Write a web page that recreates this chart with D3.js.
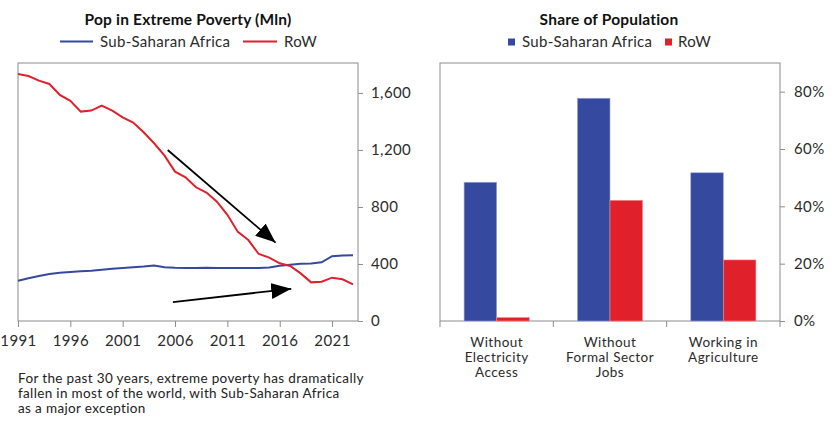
<!DOCTYPE html>
<html>
<head>
<meta charset="utf-8">
<script src="https://cdn.jsdelivr.net/npm/d3@7"></script>
<style>
  body { margin: 0; background: #fff; }
  svg { font-family: Lato, "Open Sans", sans-serif; }
  .tick text { fill: #2b2b2b; letter-spacing: 0.4px; }
</style>
</head>
<body>
<div id="chart"></div>
<script>
// Chart data

// left chart: people in extreme poverty, millions
const years = [1991, 1992, 1993, 1994, 1995, 1996, 1997, 1998, 1999, 2000,
  2001, 2002, 2003, 2004, 2005, 2006, 2007, 2008, 2009, 2010,
  2011, 2012, 2013, 2014, 2015, 2016, 2017, 2018, 2019, 2020,
  2021, 2022, 2023];
const ssa = [283, 300, 316, 330, 338, 344, 349, 353, 359, 366,
  372, 377, 382, 389, 377, 373, 372, 372, 373, 372,
  372, 372, 371, 372, 376, 388, 395, 401, 404, 412,
  455, 459, 462];
const row = [1733, 1719, 1686, 1663, 1586, 1544, 1469, 1476, 1511, 1476,
  1429, 1392, 1324, 1247, 1160, 1048, 1008, 938, 901, 837,
  745, 625, 568, 470, 445, 405, 386, 334, 271, 276,
  304, 293, 257];
const yearTicks = [1991, 1996, 2001, 2006, 2011, 2016, 2021];
const povTicks = [0, 400, 800, 1200, 1600];

// right chart: share of population
const categories = [
  ["Without", "Electricity", "Access"],
  ["Without", "Formal Sector", "Jobs"],
  ["Working in", "Agriculture"]
];
const ssaShare = [0.484, 0.777, 0.517];
const rowShare = [0.012, 0.421, 0.213];
const shareTicks = [0, 0.2, 0.4, 0.6, 0.8];

const seriesNames = ["Sub-Saharan Africa", "RoW"];
const blue = "#354a9e";
const red = "#e0202a";

const svg = d3.select("#chart")
  .append("svg")
  .attr("width", 840)
  .attr("height", 429);

/*
  Left: line chart
*/
const L = {left: 18, right: 358, top: 63, bottom: 321};

const x = d3.scaleLinear()
  .domain([1991, 2023])
  .range([L.left, 353]);

const y = d3.scaleLinear()
  .domain([0, 1810])
  .range([L.bottom, L.top]);

// frame
svg.append("rect")
  .attr("x", L.left).attr("y", L.top)
  .attr("width", L.right - L.left).attr("height", L.bottom - L.top)
  .attr("fill", "none").attr("stroke", "#8c8c8c").attr("stroke-width", 1);

svg.append("g")
  .attr("transform", `translate(${L.right},0)`)
  .call(d3.axisRight(y).tickValues(povTicks).tickFormat(d3.format(",")).tickSize(5).tickPadding(8))
  .call(g => g.select(".domain").remove())
  .call(g => g.selectAll("line").attr("stroke", "#8c8c8c"))
  .attr("font-family", null)
  .attr("font-size", "15px");

svg.append("g")
  .attr("transform", `translate(0,${L.bottom})`)
  .call(d3.axisBottom(x).tickValues(yearTicks).tickFormat(d3.format("d")).tickSize(6).tickPadding(8))
  .call(g => g.select(".domain").remove())
  .call(g => g.selectAll("line").attr("stroke", "#8c8c8c"))
  .attr("font-family", null)
  .attr("font-size", "15px");

const line = d3.line()
  .x((d, i) => x(years[i]))
  .y(d => y(d));

svg.append("path")
  .datum(ssa)
  .attr("fill", "none")
  .attr("stroke", blue)
  .attr("stroke-width", 2)
  .attr("d", line);

svg.append("path")
  .datum(row)
  .attr("fill", "none")
  .attr("stroke", red)
  .attr("stroke-width", 2)
  .attr("d", line);

// arrows
svg.append("defs").append("marker")
  .attr("id", "head")
  .attr("viewBox", "0 -8 20 16")
  .attr("refX", 20).attr("refY", 0)
  .attr("markerWidth", 20).attr("markerHeight", 16)
  .attr("markerUnits", "userSpaceOnUse")
  .attr("orient", "auto")
  .append("path")
  .attr("d", "M0,-8L20,0L0,8Z")
  .attr("fill", "#000");

const arrows = [
  {from: [2005.3, 1200], to: [2015.6, 550]},
  {from: [2005.8, 133], to: [2017.1, 226]}
];
svg.selectAll(".arrow")
  .data(arrows)
  .enter()
  .append("line")
  .attr("class", "arrow")
  .attr("x1", d => x(d.from[0])).attr("y1", d => y(d.from[1]))
  .attr("x2", d => x(d.to[0])).attr("y2", d => y(d.to[1]))
  .attr("stroke", "#000")
  .attr("stroke-width", 1.8)
  .attr("marker-end", "url(#head)");

// title + legend
svg.append("text")
  .attr("x", 188).attr("y", 25)
  .attr("text-anchor", "middle")
  .attr("font-weight", "bold").attr("font-size", "15.5px")
  .attr("letter-spacing", "0.2px")
  .attr("fill", "#111")
  .text("Pop in Extreme Poverty (Mln)");

const lineLegend = [{x: 60, w: 33, tx: 100, color: blue}, {x: 243, w: 34, tx: 284, color: red}];
lineLegend.forEach((d, i) => {
  svg.append("line")
    .attr("x1", d.x).attr("x2", d.x + d.w)
    .attr("y1", 41.5).attr("y2", 41.5)
    .attr("stroke", d.color).attr("stroke-width", 2);
  svg.append("text")
    .attr("x", d.tx).attr("y", 46.5)
    .attr("font-size", "15px").attr("letter-spacing", "0.3px").attr("fill", "#2b2b2b")
    .text(seriesNames[i]);
});

// note below
const note = [
  "For the past 30 years, extreme poverty has dramatically",
  "fallen in most of the world, with Sub-Saharan Africa",
  "as a major exception"
];
svg.append("text")
  .attr("x", 18).attr("y", 383)
  .attr("font-size", "13.5px").attr("letter-spacing", "0.35px").attr("fill", "#222")
  .selectAll("tspan")
  .data(note)
  .enter()
  .append("tspan")
  .attr("x", 18)
  .attr("dy", (d, i) => i ? 15 : 0)
  .text(d => d);

/*
  Right: grouped bar chart
*/
const R = {left: 440, right: 780, top: 63, bottom: 321};

const x0 = d3.scaleBand()
  .domain(d3.range(categories.length))
  .range([R.left, R.right])
  .padding(0);

const x1 = d3.scaleBand()
  .domain(d3.range(2))
  .range([0, x0.bandwidth()])
  .paddingInner(0)
  .paddingOuter(0.74);

const y2 = d3.scaleLinear()
  .domain([0, 0.9])
  .range([R.bottom, R.top]);

svg.append("rect")
  .attr("x", R.left).attr("y", R.top)
  .attr("width", R.right - R.left).attr("height", R.bottom - R.top)
  .attr("fill", "none").attr("stroke", "#8c8c8c").attr("stroke-width", 1);

const barData = categories.map((c, i) => [ssaShare[i], rowShare[i]]);
const groups = svg.selectAll(".grp")
  .data(barData)
  .enter()
  .append("g")
  .attr("class", "grp")
  .attr("transform", (d, i) => `translate(${x0(i)},0)`);

groups.selectAll("rect")
  .data(d => d)
  .enter()
  .append("rect")
  .attr("x", (d, j) => x1(j))
  .attr("y", d => y2(d))
  .attr("width", x1.bandwidth())
  .attr("height", d => R.bottom - y2(d))
  .attr("fill", (d, j) => j ? red : blue)
  .attr("stroke", (d, j) => j ? "#f08a8e" : "#9aa6d6")
  .attr("stroke-width", 0.6);

svg.append("g")
  .attr("transform", `translate(${R.right},0)`)
  .call(d3.axisRight(y2).tickValues(shareTicks).tickFormat(d3.format(".0%")).tickSize(5).tickPadding(9))
  .call(g => g.select(".domain").remove())
  .call(g => g.selectAll("line").attr("stroke", "#8c8c8c"))
  .attr("font-family", null)
  .attr("font-size", "15px");

// category separators on the bottom axis
svg.append("g")
  .selectAll("line")
  .data(d3.range(categories.length + 1))
  .enter()
  .append("line")
  .attr("x1", i => i < categories.length ? x0(i) : R.right)
  .attr("x2", i => i < categories.length ? x0(i) : R.right)
  .attr("y1", R.bottom).attr("y2", R.bottom + 6)
  .attr("stroke", "#8c8c8c");

svg.append("g")
  .selectAll("text")
  .data(categories)
  .enter()
  .append("text")
  .attr("text-anchor", "middle")
  .attr("font-size", "13.5px").attr("letter-spacing", "0.45px").attr("fill", "#2b2b2b")
  .attr("y", 347)
  .each(function(d, i) {
    d3.select(this).selectAll("tspan")
      .data(d)
      .enter()
      .append("tspan")
      .attr("x", x0(i) + x0.bandwidth() / 2)
      .attr("dy", (t, k) => k ? 15 : 0)
      .text(t => t);
  });

svg.append("text")
  .attr("x", 609).attr("y", 25)
  .attr("text-anchor", "middle")
  .attr("font-weight", "bold").attr("font-size", "15.5px")
  .attr("letter-spacing", "0.2px")
  .attr("fill", "#111")
  .text("Share of Population");

const barLegend = [{x: 508, tx: 522, color: blue}, {x: 665, tx: 678, color: red}];
barLegend.forEach((d, i) => {
  svg.append("rect")
    .attr("x", d.x).attr("y", 38.5)
    .attr("width", 7).attr("height", 7)
    .attr("fill", d.color);
  svg.append("text")
    .attr("x", d.tx).attr("y", 46.5)
    .attr("font-size", "15px").attr("letter-spacing", "0.3px").attr("fill", "#2b2b2b")
    .text(seriesNames[i]);
});
</script>
</body>
</html>
